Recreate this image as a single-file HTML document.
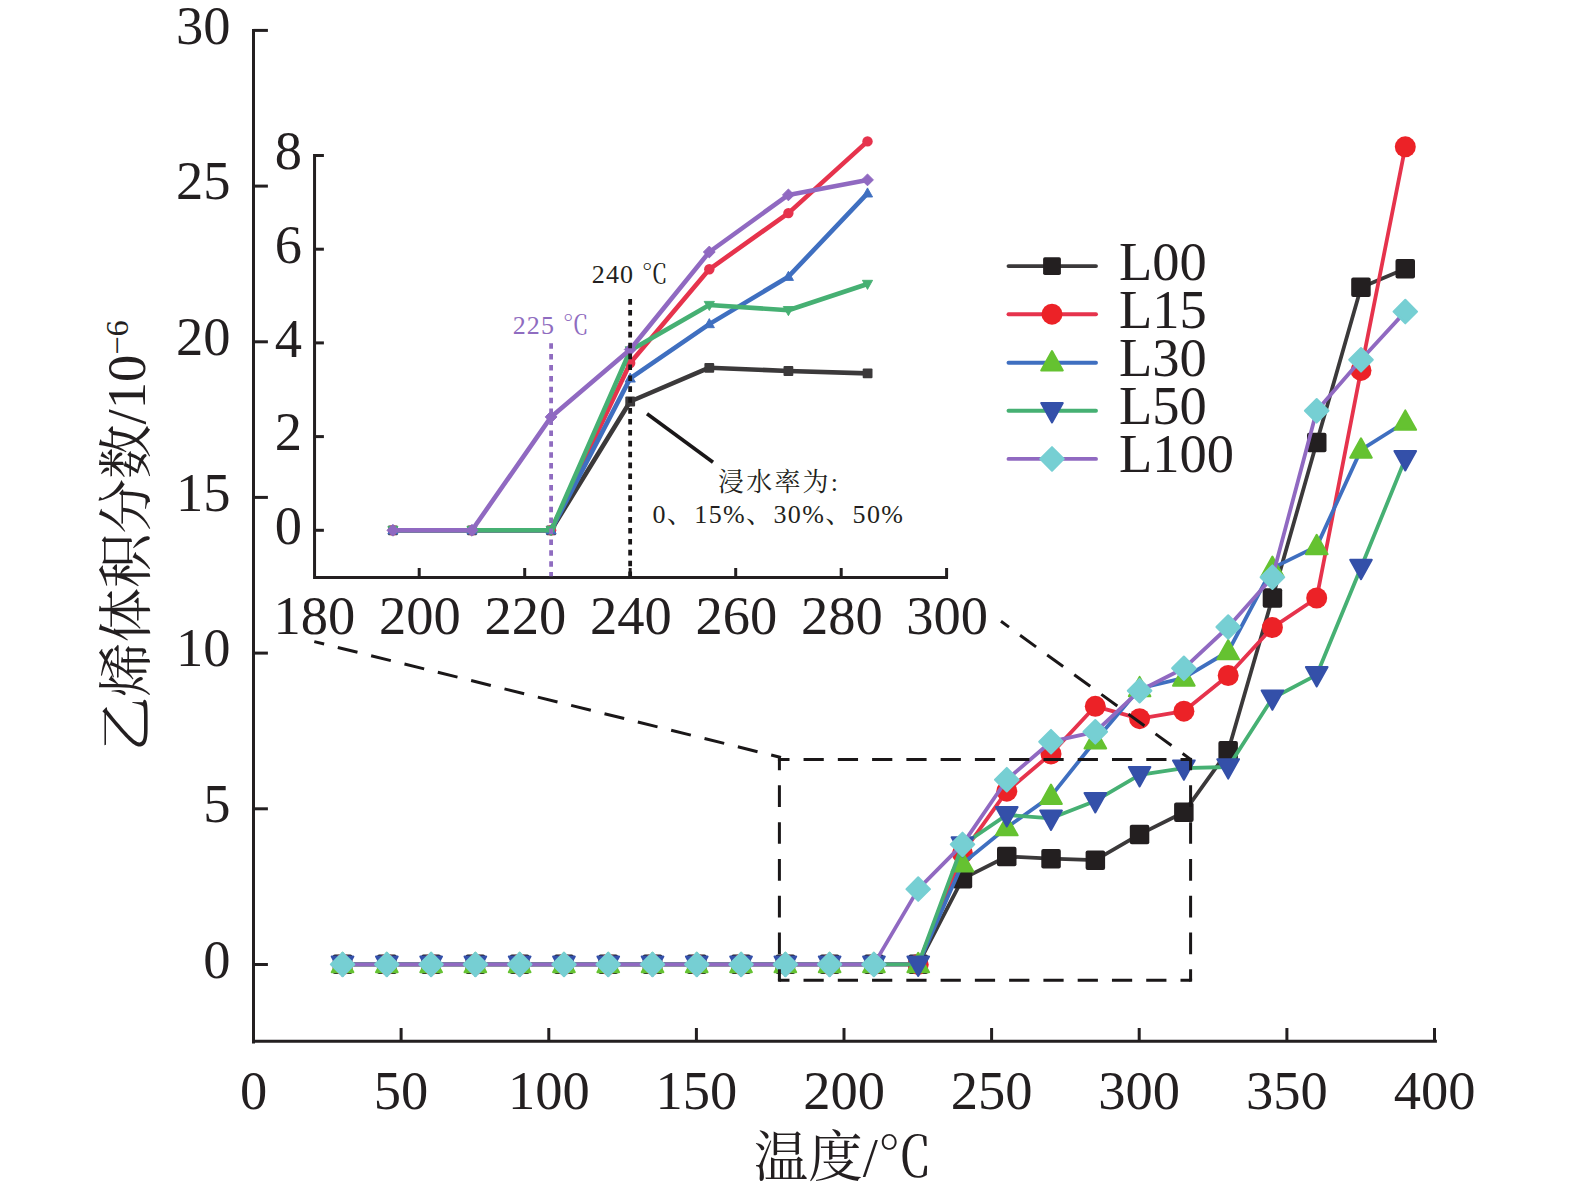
<!DOCTYPE html>
<html lang="zh"><head><meta charset="utf-8"><title>乙烯体积分数 - 温度</title>
<style>html,body{margin:0;padding:0;background:#fff}body{width:1575px;height:1192px;overflow:hidden}svg{display:block}text{font-family:"Liberation Serif","Noto Serif CJK SC",serif;fill:#231f20}.t{font-size:54.5px}.s{font-size:26px}.ax{stroke:#231f20;stroke-width:3;fill:none}.ax2{stroke:#231f20;stroke-width:3;fill:none}</style></head><body>
<svg width="1575" height="1192" viewBox="0 0 1575 1192">
<rect width="1575" height="1192" fill="#fff"/>
<g class="ax">
<path d="M253.5 29V1043.6M252.1 1041.3H1436.9"/>
<path d="M253.5 964.5H267.9"/>
<path d="M253.5 808.8H267.9"/>
<path d="M253.5 653.1H267.9"/>
<path d="M253.5 497.4H267.9"/>
<path d="M253.5 341.8H267.9"/>
<path d="M253.5 186.1H267.9"/>
<path d="M253.5 30.4H267.9"/>
<path d="M401.1 1041.3V1028"/>
<path d="M548.8 1041.3V1028"/>
<path d="M696.4 1041.3V1028"/>
<path d="M844.0 1041.3V1028"/>
<path d="M991.6 1041.3V1028"/>
<path d="M1139.2 1041.3V1028"/>
<path d="M1286.9 1041.3V1028"/>
<path d="M1434.5 1041.3V1028"/>
</g>
<text class="t" x="230.6" y="977.8" text-anchor="end">0</text>
<text class="t" x="230.6" y="822.1" text-anchor="end">5</text>
<text class="t" x="230.6" y="666.4" text-anchor="end">10</text>
<text class="t" x="230.6" y="510.7" text-anchor="end">15</text>
<text class="t" x="230.6" y="355.1" text-anchor="end">20</text>
<text class="t" x="230.6" y="199.4" text-anchor="end">25</text>
<text class="t" x="230.6" y="43.7" text-anchor="end">30</text>
<text class="t" x="253.5" y="1109" text-anchor="middle">0</text>
<text class="t" x="401.1" y="1109" text-anchor="middle">50</text>
<text class="t" x="548.8" y="1109" text-anchor="middle">100</text>
<text class="t" x="696.4" y="1109" text-anchor="middle">150</text>
<text class="t" x="844.0" y="1109" text-anchor="middle">200</text>
<text class="t" x="991.6" y="1109" text-anchor="middle">250</text>
<text class="t" x="1139.2" y="1109" text-anchor="middle">300</text>
<text class="t" x="1286.9" y="1109" text-anchor="middle">350</text>
<text class="t" x="1434.5" y="1109" text-anchor="middle">400</text>
<text class="t" x="843" y="1175.5" text-anchor="middle">温度/℃</text>
<text class="t" transform="translate(145.3 751.5) rotate(-90)">乙烯体积分数/10<tspan font-size="32.5" dy="-17.5">−6</tspan></text>
<g class="ax2">
<path d="M314.55 154V579.1M313.05 577.6H948"/>
<path d="M314.55 530.3H323.9"/>
<path d="M314.55 436.6H323.9"/>
<path d="M314.55 342.9H323.9"/>
<path d="M314.55 249.2H323.9"/>
<path d="M314.55 155.5H323.9"/>
<path d="M419.2 577.6V568"/>
<path d="M524.7 577.6V568"/>
<path d="M630.2 577.6V568"/>
<path d="M735.7 577.6V568"/>
<path d="M841.2 577.6V568"/>
<path d="M946.6 577.6V568"/>
</g>
<text class="t" x="302" y="543.9" text-anchor="end">0</text>
<text class="t" x="302" y="450.2" text-anchor="end">2</text>
<text class="t" x="302" y="356.5" text-anchor="end">4</text>
<text class="t" x="302" y="262.8" text-anchor="end">6</text>
<text class="t" x="302" y="169.1" text-anchor="end">8</text>
<text class="t" x="314.4" y="634" text-anchor="middle">180</text>
<text class="t" x="419.8" y="634" text-anchor="middle">200</text>
<text class="t" x="525.3" y="634" text-anchor="middle">220</text>
<text class="t" x="630.8" y="634" text-anchor="middle">240</text>
<text class="t" x="736.3" y="634" text-anchor="middle">260</text>
<text class="t" x="841.8" y="634" text-anchor="middle">280</text>
<text class="t" x="947.2" y="634" text-anchor="middle">300</text>
<path d="M392.9 530.3L472.0 530.3L551.1 530.3L630.2 401.5L709.3 367.7L788.4 371.0L867.5 373.4" stroke="#3b393a" stroke-width="4.6" fill="none" stroke-linejoin="round" stroke-linecap="round"/>
<rect x="388.0" y="525.4" width="9.8" height="9.8" rx="1.0" fill="#3b393a"/>
<rect x="467.1" y="525.4" width="9.8" height="9.8" rx="1.0" fill="#3b393a"/>
<rect x="546.2" y="525.4" width="9.8" height="9.8" rx="1.0" fill="#3b393a"/>
<rect x="625.3" y="396.6" width="9.8" height="9.8" rx="1.0" fill="#3b393a"/>
<rect x="704.4" y="362.9" width="9.8" height="9.8" rx="1.0" fill="#3b393a"/>
<rect x="783.5" y="366.1" width="9.8" height="9.8" rx="1.0" fill="#3b393a"/>
<rect x="862.7" y="368.5" width="9.8" height="9.8" rx="1.0" fill="#3b393a"/>
<path d="M392.9 530.3L472.0 530.3L551.1 530.3L630.2 363.0L709.3 269.3L788.4 213.1L867.5 141.4" stroke="#e6334c" stroke-width="4.6" fill="none" stroke-linejoin="round" stroke-linecap="round"/>
<circle cx="392.9" cy="530.3" r="5.2" fill="#e6334c"/>
<circle cx="472.0" cy="530.3" r="5.2" fill="#e6334c"/>
<circle cx="551.1" cy="530.3" r="5.2" fill="#e6334c"/>
<circle cx="630.2" cy="363.0" r="5.2" fill="#e6334c"/>
<circle cx="709.3" cy="269.3" r="5.2" fill="#e6334c"/>
<circle cx="788.4" cy="213.1" r="5.2" fill="#e6334c"/>
<circle cx="867.5" cy="141.4" r="5.2" fill="#e6334c"/>
<path d="M392.9 530.3L472.0 530.3L551.1 530.3L630.2 378.4L709.3 324.1L788.4 276.7L867.5 193.4" stroke="#3f6fc0" stroke-width="4.6" fill="none" stroke-linejoin="round" stroke-linecap="round"/>
<path d="M392.9 524.8L398.0 534.0L387.8 534.0Z" fill="#3f6fc0" stroke="#3f6fc0" stroke-width="0.9" stroke-linejoin="round"/>
<path d="M472.0 524.8L477.1 534.0L466.9 534.0Z" fill="#3f6fc0" stroke="#3f6fc0" stroke-width="0.9" stroke-linejoin="round"/>
<path d="M551.1 524.8L556.2 534.0L546.0 534.0Z" fill="#3f6fc0" stroke="#3f6fc0" stroke-width="0.9" stroke-linejoin="round"/>
<path d="M630.2 373.0L635.3 382.1L625.1 382.1Z" fill="#3f6fc0" stroke="#3f6fc0" stroke-width="0.9" stroke-linejoin="round"/>
<path d="M709.3 318.6L714.4 327.7L704.2 327.7Z" fill="#3f6fc0" stroke="#3f6fc0" stroke-width="0.9" stroke-linejoin="round"/>
<path d="M788.4 271.3L793.5 280.4L783.3 280.4Z" fill="#3f6fc0" stroke="#3f6fc0" stroke-width="0.9" stroke-linejoin="round"/>
<path d="M867.5 187.9L872.6 197.0L862.4 197.0Z" fill="#3f6fc0" stroke="#3f6fc0" stroke-width="0.9" stroke-linejoin="round"/>
<path d="M392.9 530.3L472.0 530.3L551.1 530.3L630.2 350.5L709.3 305.0L788.4 310.2L867.5 284.0" stroke="#46b073" stroke-width="4.6" fill="none" stroke-linejoin="round" stroke-linecap="round"/>
<path d="M392.9 535.8L398.0 526.6L387.8 526.6Z" fill="#46b073" stroke="#46b073" stroke-width="0.9" stroke-linejoin="round"/>
<path d="M472.0 535.8L477.1 526.6L466.9 526.6Z" fill="#46b073" stroke="#46b073" stroke-width="0.9" stroke-linejoin="round"/>
<path d="M551.1 535.8L556.2 526.6L546.0 526.6Z" fill="#46b073" stroke="#46b073" stroke-width="0.9" stroke-linejoin="round"/>
<path d="M630.2 355.9L635.3 346.8L625.1 346.8Z" fill="#46b073" stroke="#46b073" stroke-width="0.9" stroke-linejoin="round"/>
<path d="M709.3 310.5L714.4 301.4L704.2 301.4Z" fill="#46b073" stroke="#46b073" stroke-width="0.9" stroke-linejoin="round"/>
<path d="M788.4 315.7L793.5 306.5L783.3 306.5Z" fill="#46b073" stroke="#46b073" stroke-width="0.9" stroke-linejoin="round"/>
<path d="M867.5 289.4L872.6 280.3L862.4 280.3Z" fill="#46b073" stroke="#46b073" stroke-width="0.9" stroke-linejoin="round"/>
<path d="M392.9 530.3L472.0 530.3L551.1 416.9L630.2 349.5L709.3 252.0L788.4 194.9L867.5 179.9" stroke="#9069c1" stroke-width="4.6" fill="none" stroke-linejoin="round" stroke-linecap="round"/>
<path d="M392.9 524.4L398.8 530.3L392.9 536.2L387.0 530.3Z" fill="#9069c1" stroke="#9069c1" stroke-width="1.0" stroke-linejoin="round"/>
<path d="M472.0 524.4L477.9 530.3L472.0 536.2L466.1 530.3Z" fill="#9069c1" stroke="#9069c1" stroke-width="1.0" stroke-linejoin="round"/>
<path d="M551.1 411.0L557.0 416.9L551.1 422.8L545.2 416.9Z" fill="#9069c1" stroke="#9069c1" stroke-width="1.0" stroke-linejoin="round"/>
<path d="M630.2 343.6L636.1 349.5L630.2 355.4L624.3 349.5Z" fill="#9069c1" stroke="#9069c1" stroke-width="1.0" stroke-linejoin="round"/>
<path d="M709.3 246.1L715.2 252.0L709.3 257.9L703.4 252.0Z" fill="#9069c1" stroke="#9069c1" stroke-width="1.0" stroke-linejoin="round"/>
<path d="M788.4 189.0L794.3 194.9L788.4 200.8L782.5 194.9Z" fill="#9069c1" stroke="#9069c1" stroke-width="1.0" stroke-linejoin="round"/>
<path d="M867.5 174.0L873.4 179.9L867.5 185.8L861.6 179.9Z" fill="#9069c1" stroke="#9069c1" stroke-width="1.0" stroke-linejoin="round"/>
<path d="M551.1 343.2V576.2" stroke="#8f6cc0" stroke-width="3.8" stroke-dasharray="5.5 5.4" fill="none"/>
<path d="M630.15 299.1V576.2" stroke="#1a1718" stroke-width="3.8" stroke-dasharray="5.6 5.3" fill="none"/>
<text class="s" x="591.8" y="283" textLength="76" lengthAdjust="spacing">240 ℃</text>
<text class="s" x="512.7" y="333.5" textLength="76" lengthAdjust="spacing" style="fill:#8f6cc0">225 ℃</text>
<path d="M647 413.7L713 462.3" stroke="#1a1718" stroke-width="3.6" fill="none"/>
<text class="s" x="718" y="491" textLength="120" lengthAdjust="spacing">浸水率为:</text>
<text class="s" x="652.5" y="523" textLength="250.5" lengthAdjust="spacing">0、15%、30%、50%</text>
<path d="M342.6 964.4L386.8 964.4L431.1 964.4L475.4 964.4L519.7 964.4L564.0 964.4L608.2 964.4L652.5 964.4L696.8 964.4L741.1 964.4L785.4 964.4L829.6 964.4L873.9 964.4L918.2 964.4L962.5 878.9L1006.8 856.5L1051.0 858.7L1095.3 860.2L1139.6 834.4L1183.9 812.3L1228.2 750.7L1272.4 598.0L1316.7 442.5L1361.0 287.4L1405.3 268.7" stroke="#3b393a" stroke-width="3.8" fill="none" stroke-linejoin="round" stroke-linecap="round"/>
<rect x="332.8" y="954.6" width="19.5" height="19.5" rx="2.0" fill="#231f20"/>
<rect x="377.1" y="954.6" width="19.5" height="19.5" rx="2.0" fill="#231f20"/>
<rect x="421.4" y="954.6" width="19.5" height="19.5" rx="2.0" fill="#231f20"/>
<rect x="465.6" y="954.6" width="19.5" height="19.5" rx="2.0" fill="#231f20"/>
<rect x="509.9" y="954.6" width="19.5" height="19.5" rx="2.0" fill="#231f20"/>
<rect x="554.2" y="954.6" width="19.5" height="19.5" rx="2.0" fill="#231f20"/>
<rect x="598.5" y="954.6" width="19.5" height="19.5" rx="2.0" fill="#231f20"/>
<rect x="642.8" y="954.6" width="19.5" height="19.5" rx="2.0" fill="#231f20"/>
<rect x="687.0" y="954.6" width="19.5" height="19.5" rx="2.0" fill="#231f20"/>
<rect x="731.3" y="954.6" width="19.5" height="19.5" rx="2.0" fill="#231f20"/>
<rect x="775.6" y="954.6" width="19.5" height="19.5" rx="2.0" fill="#231f20"/>
<rect x="819.9" y="954.6" width="19.5" height="19.5" rx="2.0" fill="#231f20"/>
<rect x="864.2" y="954.6" width="19.5" height="19.5" rx="2.0" fill="#231f20"/>
<rect x="908.5" y="954.6" width="19.5" height="19.5" rx="2.0" fill="#231f20"/>
<rect x="952.7" y="869.1" width="19.5" height="19.5" rx="2.0" fill="#231f20"/>
<rect x="997.0" y="846.7" width="19.5" height="19.5" rx="2.0" fill="#231f20"/>
<rect x="1041.3" y="848.9" width="19.5" height="19.5" rx="2.0" fill="#231f20"/>
<rect x="1085.6" y="850.5" width="19.5" height="19.5" rx="2.0" fill="#231f20"/>
<rect x="1129.8" y="824.7" width="19.5" height="19.5" rx="2.0" fill="#231f20"/>
<rect x="1174.1" y="802.6" width="19.5" height="19.5" rx="2.0" fill="#231f20"/>
<rect x="1218.4" y="741.0" width="19.5" height="19.5" rx="2.0" fill="#231f20"/>
<rect x="1262.7" y="588.3" width="19.5" height="19.5" rx="2.0" fill="#231f20"/>
<rect x="1307.0" y="432.8" width="19.5" height="19.5" rx="2.0" fill="#231f20"/>
<rect x="1351.2" y="277.6" width="19.5" height="19.5" rx="2.0" fill="#231f20"/>
<rect x="1395.5" y="258.9" width="19.5" height="19.5" rx="2.0" fill="#231f20"/>
<path d="M342.6 964.4L386.8 964.4L431.1 964.4L475.4 964.4L519.7 964.4L564.0 964.4L608.2 964.4L652.5 964.4L696.8 964.4L741.1 964.4L785.4 964.4L829.6 964.4L873.9 964.4L918.2 964.4L962.5 853.4L1006.8 791.2L1051.0 753.9L1095.3 706.3L1139.6 718.7L1183.9 711.2L1228.2 675.5L1272.4 627.6L1316.7 598.0L1361.0 370.4L1405.3 146.8" stroke="#e6334c" stroke-width="3.8" fill="none" stroke-linejoin="round" stroke-linecap="round"/>
<circle cx="342.6" cy="964.4" r="10.5" fill="#ec2227"/>
<circle cx="386.8" cy="964.4" r="10.5" fill="#ec2227"/>
<circle cx="431.1" cy="964.4" r="10.5" fill="#ec2227"/>
<circle cx="475.4" cy="964.4" r="10.5" fill="#ec2227"/>
<circle cx="519.7" cy="964.4" r="10.5" fill="#ec2227"/>
<circle cx="564.0" cy="964.4" r="10.5" fill="#ec2227"/>
<circle cx="608.2" cy="964.4" r="10.5" fill="#ec2227"/>
<circle cx="652.5" cy="964.4" r="10.5" fill="#ec2227"/>
<circle cx="696.8" cy="964.4" r="10.5" fill="#ec2227"/>
<circle cx="741.1" cy="964.4" r="10.5" fill="#ec2227"/>
<circle cx="785.4" cy="964.4" r="10.5" fill="#ec2227"/>
<circle cx="829.6" cy="964.4" r="10.5" fill="#ec2227"/>
<circle cx="873.9" cy="964.4" r="10.5" fill="#ec2227"/>
<circle cx="918.2" cy="964.4" r="10.5" fill="#ec2227"/>
<circle cx="962.5" cy="853.4" r="10.5" fill="#ec2227"/>
<circle cx="1006.8" cy="791.2" r="10.5" fill="#ec2227"/>
<circle cx="1051.0" cy="753.9" r="10.5" fill="#ec2227"/>
<circle cx="1095.3" cy="706.3" r="10.5" fill="#ec2227"/>
<circle cx="1139.6" cy="718.7" r="10.5" fill="#ec2227"/>
<circle cx="1183.9" cy="711.2" r="10.5" fill="#ec2227"/>
<circle cx="1228.2" cy="675.5" r="10.5" fill="#ec2227"/>
<circle cx="1272.4" cy="627.6" r="10.5" fill="#ec2227"/>
<circle cx="1316.7" cy="598.0" r="10.5" fill="#ec2227"/>
<circle cx="1361.0" cy="370.4" r="10.5" fill="#ec2227"/>
<circle cx="1405.3" cy="146.8" r="10.5" fill="#ec2227"/>
<path d="M342.6 964.4L386.8 964.4L431.1 964.4L475.4 964.4L519.7 964.4L564.0 964.4L608.2 964.4L652.5 964.4L696.8 964.4L741.1 964.4L785.4 964.4L829.6 964.4L873.9 964.4L918.2 964.4L962.5 863.6L1006.8 827.5L1051.0 796.1L1095.3 740.7L1139.6 688.5L1183.9 677.9L1228.2 651.5L1272.4 568.1L1316.7 546.4L1361.0 449.9L1405.3 422.0" stroke="#3f6fc0" stroke-width="3.8" fill="none" stroke-linejoin="round" stroke-linecap="round"/>
<path d="M342.6 952.8L353.4 972.2L331.7 972.2Z" fill="#65c231" stroke="#65c231" stroke-width="2.0" stroke-linejoin="round"/>
<path d="M386.8 952.8L397.7 972.2L376.0 972.2Z" fill="#65c231" stroke="#65c231" stroke-width="2.0" stroke-linejoin="round"/>
<path d="M431.1 952.8L442.0 972.2L420.3 972.2Z" fill="#65c231" stroke="#65c231" stroke-width="2.0" stroke-linejoin="round"/>
<path d="M475.4 952.8L486.2 972.2L464.5 972.2Z" fill="#65c231" stroke="#65c231" stroke-width="2.0" stroke-linejoin="round"/>
<path d="M519.7 952.8L530.5 972.2L508.8 972.2Z" fill="#65c231" stroke="#65c231" stroke-width="2.0" stroke-linejoin="round"/>
<path d="M564.0 952.8L574.8 972.2L553.1 972.2Z" fill="#65c231" stroke="#65c231" stroke-width="2.0" stroke-linejoin="round"/>
<path d="M608.2 952.8L619.1 972.2L597.4 972.2Z" fill="#65c231" stroke="#65c231" stroke-width="2.0" stroke-linejoin="round"/>
<path d="M652.5 952.8L663.4 972.2L641.7 972.2Z" fill="#65c231" stroke="#65c231" stroke-width="2.0" stroke-linejoin="round"/>
<path d="M696.8 952.8L707.6 972.2L685.9 972.2Z" fill="#65c231" stroke="#65c231" stroke-width="2.0" stroke-linejoin="round"/>
<path d="M741.1 952.8L751.9 972.2L730.2 972.2Z" fill="#65c231" stroke="#65c231" stroke-width="2.0" stroke-linejoin="round"/>
<path d="M785.4 952.8L796.2 972.2L774.5 972.2Z" fill="#65c231" stroke="#65c231" stroke-width="2.0" stroke-linejoin="round"/>
<path d="M829.6 952.8L840.5 972.2L818.8 972.2Z" fill="#65c231" stroke="#65c231" stroke-width="2.0" stroke-linejoin="round"/>
<path d="M873.9 952.8L884.8 972.2L863.1 972.2Z" fill="#65c231" stroke="#65c231" stroke-width="2.0" stroke-linejoin="round"/>
<path d="M918.2 952.8L929.1 972.2L907.4 972.2Z" fill="#65c231" stroke="#65c231" stroke-width="2.0" stroke-linejoin="round"/>
<path d="M962.5 852.0L973.3 871.4L951.6 871.4Z" fill="#65c231" stroke="#65c231" stroke-width="2.0" stroke-linejoin="round"/>
<path d="M1006.8 815.9L1017.6 835.3L995.9 835.3Z" fill="#65c231" stroke="#65c231" stroke-width="2.0" stroke-linejoin="round"/>
<path d="M1051.0 784.5L1061.9 803.9L1040.2 803.9Z" fill="#65c231" stroke="#65c231" stroke-width="2.0" stroke-linejoin="round"/>
<path d="M1095.3 729.1L1106.2 748.5L1084.5 748.5Z" fill="#65c231" stroke="#65c231" stroke-width="2.0" stroke-linejoin="round"/>
<path d="M1139.6 676.9L1150.4 696.3L1128.8 696.3Z" fill="#65c231" stroke="#65c231" stroke-width="2.0" stroke-linejoin="round"/>
<path d="M1183.9 666.3L1194.7 685.7L1173.0 685.7Z" fill="#65c231" stroke="#65c231" stroke-width="2.0" stroke-linejoin="round"/>
<path d="M1228.2 639.9L1239.0 659.3L1217.3 659.3Z" fill="#65c231" stroke="#65c231" stroke-width="2.0" stroke-linejoin="round"/>
<path d="M1272.4 556.5L1283.3 575.9L1261.6 575.9Z" fill="#65c231" stroke="#65c231" stroke-width="2.0" stroke-linejoin="round"/>
<path d="M1316.7 534.8L1327.6 554.2L1305.9 554.2Z" fill="#65c231" stroke="#65c231" stroke-width="2.0" stroke-linejoin="round"/>
<path d="M1361.0 438.3L1371.8 457.7L1350.2 457.7Z" fill="#65c231" stroke="#65c231" stroke-width="2.0" stroke-linejoin="round"/>
<path d="M1405.3 410.4L1416.1 429.8L1394.4 429.8Z" fill="#65c231" stroke="#65c231" stroke-width="2.0" stroke-linejoin="round"/>
<path d="M342.6 964.4L386.8 964.4L431.1 964.4L475.4 964.4L519.7 964.4L564.0 964.4L608.2 964.4L652.5 964.4L696.8 964.4L741.1 964.4L785.4 964.4L829.6 964.4L873.9 964.4L918.2 964.4L962.5 845.0L1006.8 814.9L1051.0 818.3L1095.3 800.9L1139.6 774.8L1183.9 768.2L1228.2 767.0L1272.4 698.2L1316.7 674.9L1361.0 567.6L1405.3 458.8" stroke="#46b073" stroke-width="3.8" fill="none" stroke-linejoin="round" stroke-linecap="round"/>
<path d="M342.6 976.0L353.4 956.6L331.7 956.6Z" fill="#3450a9" stroke="#3450a9" stroke-width="2.0" stroke-linejoin="round"/>
<path d="M386.8 976.0L397.7 956.6L376.0 956.6Z" fill="#3450a9" stroke="#3450a9" stroke-width="2.0" stroke-linejoin="round"/>
<path d="M431.1 976.0L442.0 956.6L420.3 956.6Z" fill="#3450a9" stroke="#3450a9" stroke-width="2.0" stroke-linejoin="round"/>
<path d="M475.4 976.0L486.2 956.6L464.5 956.6Z" fill="#3450a9" stroke="#3450a9" stroke-width="2.0" stroke-linejoin="round"/>
<path d="M519.7 976.0L530.5 956.6L508.8 956.6Z" fill="#3450a9" stroke="#3450a9" stroke-width="2.0" stroke-linejoin="round"/>
<path d="M564.0 976.0L574.8 956.6L553.1 956.6Z" fill="#3450a9" stroke="#3450a9" stroke-width="2.0" stroke-linejoin="round"/>
<path d="M608.2 976.0L619.1 956.6L597.4 956.6Z" fill="#3450a9" stroke="#3450a9" stroke-width="2.0" stroke-linejoin="round"/>
<path d="M652.5 976.0L663.4 956.6L641.7 956.6Z" fill="#3450a9" stroke="#3450a9" stroke-width="2.0" stroke-linejoin="round"/>
<path d="M696.8 976.0L707.6 956.6L685.9 956.6Z" fill="#3450a9" stroke="#3450a9" stroke-width="2.0" stroke-linejoin="round"/>
<path d="M741.1 976.0L751.9 956.6L730.2 956.6Z" fill="#3450a9" stroke="#3450a9" stroke-width="2.0" stroke-linejoin="round"/>
<path d="M785.4 976.0L796.2 956.6L774.5 956.6Z" fill="#3450a9" stroke="#3450a9" stroke-width="2.0" stroke-linejoin="round"/>
<path d="M829.6 976.0L840.5 956.6L818.8 956.6Z" fill="#3450a9" stroke="#3450a9" stroke-width="2.0" stroke-linejoin="round"/>
<path d="M873.9 976.0L884.8 956.6L863.1 956.6Z" fill="#3450a9" stroke="#3450a9" stroke-width="2.0" stroke-linejoin="round"/>
<path d="M918.2 976.0L929.1 956.6L907.4 956.6Z" fill="#3450a9" stroke="#3450a9" stroke-width="2.0" stroke-linejoin="round"/>
<path d="M962.5 856.6L973.3 837.2L951.6 837.2Z" fill="#3450a9" stroke="#3450a9" stroke-width="2.0" stroke-linejoin="round"/>
<path d="M1006.8 826.5L1017.6 807.1L995.9 807.1Z" fill="#3450a9" stroke="#3450a9" stroke-width="2.0" stroke-linejoin="round"/>
<path d="M1051.0 829.9L1061.9 810.5L1040.2 810.5Z" fill="#3450a9" stroke="#3450a9" stroke-width="2.0" stroke-linejoin="round"/>
<path d="M1095.3 812.5L1106.2 793.1L1084.5 793.1Z" fill="#3450a9" stroke="#3450a9" stroke-width="2.0" stroke-linejoin="round"/>
<path d="M1139.6 786.4L1150.4 767.0L1128.8 767.0Z" fill="#3450a9" stroke="#3450a9" stroke-width="2.0" stroke-linejoin="round"/>
<path d="M1183.9 779.8L1194.7 760.4L1173.0 760.4Z" fill="#3450a9" stroke="#3450a9" stroke-width="2.0" stroke-linejoin="round"/>
<path d="M1228.2 778.6L1239.0 759.2L1217.3 759.2Z" fill="#3450a9" stroke="#3450a9" stroke-width="2.0" stroke-linejoin="round"/>
<path d="M1272.4 709.8L1283.3 690.4L1261.6 690.4Z" fill="#3450a9" stroke="#3450a9" stroke-width="2.0" stroke-linejoin="round"/>
<path d="M1316.7 686.5L1327.6 667.1L1305.9 667.1Z" fill="#3450a9" stroke="#3450a9" stroke-width="2.0" stroke-linejoin="round"/>
<path d="M1361.0 579.2L1371.8 559.8L1350.2 559.8Z" fill="#3450a9" stroke="#3450a9" stroke-width="2.0" stroke-linejoin="round"/>
<path d="M1405.3 470.4L1416.1 451.0L1394.4 451.0Z" fill="#3450a9" stroke="#3450a9" stroke-width="2.0" stroke-linejoin="round"/>
<path d="M342.6 964.4L386.8 964.4L431.1 964.4L475.4 964.4L519.7 964.4L564.0 964.4L608.2 964.4L652.5 964.4L696.8 964.4L741.1 964.4L785.4 964.4L829.6 964.4L873.9 964.4L918.2 889.1L962.5 844.4L1006.8 779.7L1051.0 741.7L1095.3 731.8L1139.6 690.7L1183.9 668.3L1228.2 627.0L1272.4 577.2L1316.7 410.8L1361.0 359.8L1405.3 311.6" stroke="#9069c1" stroke-width="3.8" fill="none" stroke-linejoin="round" stroke-linecap="round"/>
<path d="M342.6 952.6L354.4 964.4L342.6 976.2L330.8 964.4Z" fill="#76cfd3" stroke="#76cfd3" stroke-width="2.0" stroke-linejoin="round"/>
<path d="M386.8 952.6L398.6 964.4L386.8 976.2L375.0 964.4Z" fill="#76cfd3" stroke="#76cfd3" stroke-width="2.0" stroke-linejoin="round"/>
<path d="M431.1 952.6L442.9 964.4L431.1 976.2L419.3 964.4Z" fill="#76cfd3" stroke="#76cfd3" stroke-width="2.0" stroke-linejoin="round"/>
<path d="M475.4 952.6L487.2 964.4L475.4 976.2L463.6 964.4Z" fill="#76cfd3" stroke="#76cfd3" stroke-width="2.0" stroke-linejoin="round"/>
<path d="M519.7 952.6L531.5 964.4L519.7 976.2L507.9 964.4Z" fill="#76cfd3" stroke="#76cfd3" stroke-width="2.0" stroke-linejoin="round"/>
<path d="M564.0 952.6L575.8 964.4L564.0 976.2L552.2 964.4Z" fill="#76cfd3" stroke="#76cfd3" stroke-width="2.0" stroke-linejoin="round"/>
<path d="M608.2 952.6L620.0 964.4L608.2 976.2L596.4 964.4Z" fill="#76cfd3" stroke="#76cfd3" stroke-width="2.0" stroke-linejoin="round"/>
<path d="M652.5 952.6L664.3 964.4L652.5 976.2L640.7 964.4Z" fill="#76cfd3" stroke="#76cfd3" stroke-width="2.0" stroke-linejoin="round"/>
<path d="M696.8 952.6L708.6 964.4L696.8 976.2L685.0 964.4Z" fill="#76cfd3" stroke="#76cfd3" stroke-width="2.0" stroke-linejoin="round"/>
<path d="M741.1 952.6L752.9 964.4L741.1 976.2L729.3 964.4Z" fill="#76cfd3" stroke="#76cfd3" stroke-width="2.0" stroke-linejoin="round"/>
<path d="M785.4 952.6L797.2 964.4L785.4 976.2L773.6 964.4Z" fill="#76cfd3" stroke="#76cfd3" stroke-width="2.0" stroke-linejoin="round"/>
<path d="M829.6 952.6L841.4 964.4L829.6 976.2L817.8 964.4Z" fill="#76cfd3" stroke="#76cfd3" stroke-width="2.0" stroke-linejoin="round"/>
<path d="M873.9 952.6L885.7 964.4L873.9 976.2L862.1 964.4Z" fill="#76cfd3" stroke="#76cfd3" stroke-width="2.0" stroke-linejoin="round"/>
<path d="M918.2 877.3L930.0 889.1L918.2 900.9L906.4 889.1Z" fill="#76cfd3" stroke="#76cfd3" stroke-width="2.0" stroke-linejoin="round"/>
<path d="M962.5 832.6L974.3 844.4L962.5 856.2L950.7 844.4Z" fill="#76cfd3" stroke="#76cfd3" stroke-width="2.0" stroke-linejoin="round"/>
<path d="M1006.8 767.9L1018.6 779.7L1006.8 791.5L995.0 779.7Z" fill="#76cfd3" stroke="#76cfd3" stroke-width="2.0" stroke-linejoin="round"/>
<path d="M1051.0 729.9L1062.8 741.7L1051.0 753.5L1039.2 741.7Z" fill="#76cfd3" stroke="#76cfd3" stroke-width="2.0" stroke-linejoin="round"/>
<path d="M1095.3 720.0L1107.1 731.8L1095.3 743.6L1083.5 731.8Z" fill="#76cfd3" stroke="#76cfd3" stroke-width="2.0" stroke-linejoin="round"/>
<path d="M1139.6 678.9L1151.4 690.7L1139.6 702.5L1127.8 690.7Z" fill="#76cfd3" stroke="#76cfd3" stroke-width="2.0" stroke-linejoin="round"/>
<path d="M1183.9 656.5L1195.7 668.3L1183.9 680.1L1172.1 668.3Z" fill="#76cfd3" stroke="#76cfd3" stroke-width="2.0" stroke-linejoin="round"/>
<path d="M1228.2 615.2L1240.0 627.0L1228.2 638.8L1216.4 627.0Z" fill="#76cfd3" stroke="#76cfd3" stroke-width="2.0" stroke-linejoin="round"/>
<path d="M1272.4 565.4L1284.2 577.2L1272.4 589.0L1260.6 577.2Z" fill="#76cfd3" stroke="#76cfd3" stroke-width="2.0" stroke-linejoin="round"/>
<path d="M1316.7 399.0L1328.5 410.8L1316.7 422.6L1304.9 410.8Z" fill="#76cfd3" stroke="#76cfd3" stroke-width="2.0" stroke-linejoin="round"/>
<path d="M1361.0 348.0L1372.8 359.8L1361.0 371.6L1349.2 359.8Z" fill="#76cfd3" stroke="#76cfd3" stroke-width="2.0" stroke-linejoin="round"/>
<path d="M1405.3 299.8L1417.1 311.6L1405.3 323.4L1393.5 311.6Z" fill="#76cfd3" stroke="#76cfd3" stroke-width="2.0" stroke-linejoin="round"/>
<g stroke="#1a1718" stroke-width="3" fill="none">
<path d="M779.4 759.4L1190.6 759.4" stroke-dasharray="20.22 14.05" stroke-dashoffset="10.11"/>
<path d="M1190.6 759.4L1190.6 980.2" stroke-dasharray="21.71 15.09" stroke-dashoffset="10.86"/>
<path d="M1190.6 980.2L779.4 980.2" stroke-dasharray="20.22 14.05" stroke-dashoffset="10.11"/>
<path d="M779.4 980.2L779.4 759.4" stroke-dasharray="21.71 15.09" stroke-dashoffset="10.86"/>
<rect x="777.9" y="757.9" width="3" height="3" fill="#1a1718" stroke="none"/>
<rect x="1189.1" y="757.9" width="3" height="3" fill="#1a1718" stroke="none"/>
<rect x="1189.1" y="978.7" width="3" height="3" fill="#1a1718" stroke="none"/>
<rect x="777.9" y="978.7" width="3" height="3" fill="#1a1718" stroke="none"/>
<path d="M314.3 641.6L781.0 757.5" stroke-dasharray="20.27 14.08" stroke-dashoffset="10.13"/>
<path d="M1001.0 621.3L1190.6 759.4" stroke-dasharray="19.77 13.74" stroke-dashoffset="9.89"/>
</g>
<path d="M1008.5 266.1H1096" stroke="#3b393a" stroke-width="3.9" stroke-linecap="round" fill="none"/>
<rect x="1043.1" y="257.2" width="17.8" height="17.8" rx="1.8" fill="#231f20"/>
<text class="t" x="1119" y="279.5">L00</text>
<path d="M1008.5 314.2H1096" stroke="#e6334c" stroke-width="3.9" stroke-linecap="round" fill="none"/>
<circle cx="1052.0" cy="314.2" r="10.5" fill="#ec2227"/>
<text class="t" x="1119" y="327.6">L15</text>
<path d="M1008.5 362.7H1096" stroke="#3f6fc0" stroke-width="3.9" stroke-linecap="round" fill="none"/>
<path d="M1052.0 351.1L1062.8 370.5L1041.2 370.5Z" fill="#65c231" stroke="#65c231" stroke-width="2.0" stroke-linejoin="round"/>
<text class="t" x="1119" y="376.1">L30</text>
<path d="M1008.5 410.8H1096" stroke="#46b073" stroke-width="3.9" stroke-linecap="round" fill="none"/>
<path d="M1052.0 422.4L1062.8 403.0L1041.2 403.0Z" fill="#3450a9" stroke="#3450a9" stroke-width="2.0" stroke-linejoin="round"/>
<text class="t" x="1119" y="424.2">L50</text>
<path d="M1008.5 458.9H1096" stroke="#9069c1" stroke-width="3.9" stroke-linecap="round" fill="none"/>
<path d="M1052.0 447.1L1063.8 458.9L1052.0 470.7L1040.2 458.9Z" fill="#76cfd3" stroke="#76cfd3" stroke-width="2.0" stroke-linejoin="round"/>
<text class="t" x="1119" y="472.3">L100</text>
</svg></body></html>
